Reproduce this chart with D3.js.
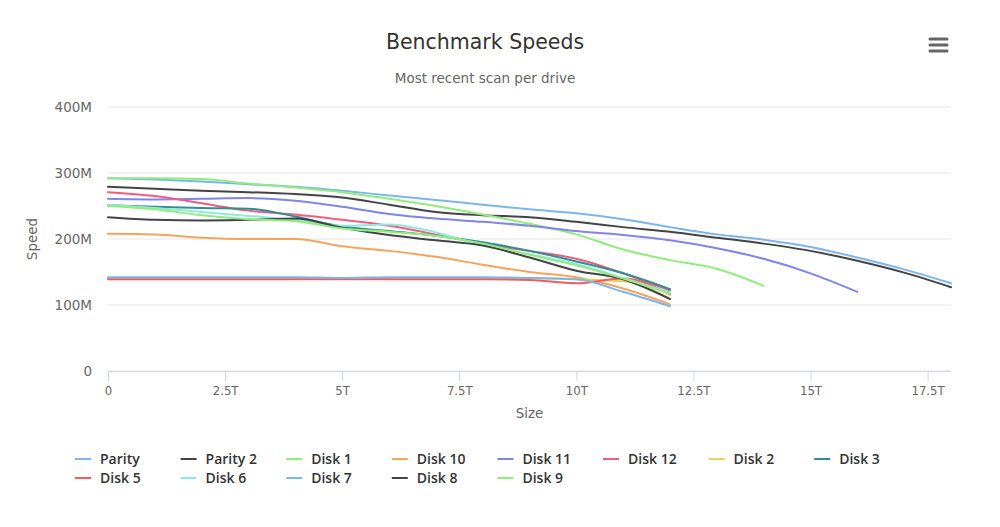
<!DOCTYPE html>
<html>
<head>
<meta charset="utf-8">
<script src="https://cdn.jsdelivr.net/npm/d3@7"></script>
<style>
  html, body { margin: 0; padding: 0; background: #fff; }
  svg text { font-family: "DejaVu Sans", Verdana, Arial, sans-serif; }
</style>
</head>
<body>
<div id="chart"></div>
<script>
// sizes in T, speeds in M
const sizesTo18 = [0, 1, 2, 3, 4, 5, 6, 7, 8, 9, 10, 11, 12, 13, 14, 15, 16, 17, 18];
const sizesTo16 = [0, 1, 2, 3, 4, 5, 6, 7, 8, 9, 10, 11, 12, 13, 14, 15, 16];
const sizesTo14 = [0, 1, 2, 3, 4, 5, 6, 7, 8, 9, 10, 11, 12, 13, 14];
const sizesTo12 = [0, 1, 2, 3, 4, 5, 6, 7, 8, 9, 10, 11, 12];

const parity  = [292, 290, 287, 283, 279, 273, 266, 259, 252, 245, 239, 230, 218, 207, 199, 188, 172, 154, 133];
const parity2 = [279, 276, 273, 271, 268, 263, 252, 241, 236, 233, 226, 218, 211, 202, 193, 182, 167, 149, 127];
const disk1   = [292, 292, 291, 284, 278, 271, 261, 250, 237, 223, 207, 184, 168, 155, 129];
const disk10  = [208, 207, 202, 200, 200, 189, 182, 173, 161, 150, 142, 125, 101];
const disk11  = [261, 260, 261, 262, 258, 249, 238, 231, 226, 220, 212, 206, 198, 186, 170, 148, 120];
const disk12  = [271, 265, 254, 243, 237, 229, 220, 207, 193, 182, 170, 148, 122];
const disk2   = [141, 141, 141, 141, 141, 141, 141, 141, 141, 141, 139, 136, 110];
const disk3   = [251, 249, 247, 246, 234, 219, 212, 205, 195, 182, 166, 148, 124];
const disk5   = [139, 139, 139, 139, 139, 139, 139, 139, 139, 138, 133, 140, 116];
const disk6   = [252, 247, 241, 235, 229, 220, 222, 210, 190, 177, 162, 141, 119];
const disk7   = [142, 142, 142, 142, 142, 141, 142, 142, 142, 141, 139, 120, 98];
const disk8   = [233, 229, 228, 229, 231, 217, 206, 198, 190, 172, 152, 139, 109];
const disk9   = [250, 245, 236, 230, 227, 216, 211, 205, 193, 176, 160, 140, 117];

const seriesNames = ["Parity", "Parity 2", "Disk 1", "Disk 10", "Disk 11", "Disk 12", "Disk 2", "Disk 3",
                     "Disk 5", "Disk 6", "Disk 7", "Disk 8", "Disk 9"];
const seriesSizes = [sizesTo18, sizesTo18, sizesTo14, sizesTo12, sizesTo16, sizesTo12, sizesTo12, sizesTo12,
                     sizesTo12, sizesTo12, sizesTo12, sizesTo12, sizesTo12];
const seriesSpeeds = [parity, parity2, disk1, disk10, disk11, disk12, disk2, disk3,
                      disk5, disk6, disk7, disk8, disk9];
const palette = ["#7cb5ec", "#434348", "#90ed7d", "#f7a35c", "#8085e9", "#f15c80", "#e4d354", "#2b908f",
                 "#f45b5b", "#91e8e1", "#7cb5ec", "#434348", "#90ed7d"];

const sizeTicks = [0, 2.5, 5, 7.5, 10, 12.5, 15, 17.5];
const speedTicks = [0, 100, 200, 300, 400];

const width = 1000, height = 527;
const margin = { top: 107, right: 49, bottom: 156, left: 108 };
const plotW = width - margin.left - margin.right;
const plotH = height - margin.top - margin.bottom;

const svg = d3.select("#chart").append("svg")
    .attr("width", width)
    .attr("height", height);

// title + subtitle
svg.append("text")
    .attr("x", 485).attr("y", 49)
    .attr("text-anchor", "middle")
    .attr("fill", "#333")
    .style("font-size", "20.5px")
    .text("Benchmark Speeds");

svg.append("text")
    .attr("x", 485).attr("y", 83)
    .attr("text-anchor", "middle")
    .attr("fill", "#666")
    .style("font-size", "13.5px")
    .text("Most recent scan per drive");

// menu button
const menu = svg.append("g").attr("stroke", "#666").attr("stroke-width", 3).attr("stroke-linecap", "round");
[39, 45, 51].forEach(y => {
    menu.append("line").attr("x1", 930).attr("x2", 947).attr("y1", y).attr("y2", y);
});

const plot = svg.append("g").attr("transform", `translate(${margin.left},${margin.top})`);

const x = d3.scaleLinear().domain([0, 18]).range([0, plotW]);
const y = d3.scaleLinear().domain([0, 400]).range([plotH, 0]);

// grid
plot.append("g")
    .selectAll("line")
    .data(speedTicks)
    .join("line")
    .attr("x1", 0).attr("x2", plotW)
    .attr("y1", d => y(d)).attr("y2", d => y(d))
    .attr("stroke", "#e6e6e6");

// y axis labels
const yAxis = plot.append("g")
    .call(d3.axisLeft(y).tickValues(speedTicks).tickSize(0).tickPadding(16)
        .tickFormat(d => d === 0 ? "0" : d + "M"));
yAxis.select(".domain").remove();
yAxis.selectAll("text").attr("fill", "#666").style("font-size", "13.5px")
    .style("font-family", "'DejaVu Sans', Verdana, sans-serif");

// x axis
const xAxis = plot.append("g")
    .attr("transform", `translate(0,${plotH})`)
    .call(d3.axisBottom(x).tickValues(sizeTicks).tickSize(10).tickPadding(5)
        .tickFormat(d => d === 0 ? "0" : d + "T"));
xAxis.select(".domain").attr("stroke", "#ccd6eb").attr("d", `M0.5,0.5H${plotW}`);
xAxis.selectAll(".tick line").attr("stroke", "#ccd6eb");
xAxis.selectAll("text").attr("fill", "#666").style("font-size", "13px")
    .style("font-family", "'DejaVu Sans Condensed', 'DejaVu Sans', sans-serif");

// axis titles
svg.append("text")
    .attr("transform", `translate(37,${margin.top + plotH / 2}) rotate(-90)`)
    .attr("text-anchor", "middle")
    .attr("fill", "#666")
    .style("font-size", "13.5px")
    .text("Speed");

svg.append("text")
    .attr("x", margin.left + plotW / 2).attr("y", 418)
    .attr("text-anchor", "middle")
    .attr("fill", "#666")
    .style("font-size", "13.5px")
    .text("Size");

// lines
const line = d3.line()
    .x(d => x(d[0]))
    .y(d => y(d[1]))
    .curve(d3.curveMonotoneX);

const series = seriesNames.map((name, i) => ({
    name,
    color: palette[i],
    points: seriesSizes[i].map((s, j) => [s, seriesSpeeds[i][j]])
}));

plot.append("g")
    .selectAll("path")
    .data(series)
    .join("path")
    .attr("d", d => line(d.points))
    .attr("fill", "none")
    .attr("stroke", d => d.color)
    .attr("stroke-width", 2)
    .attr("stroke-linejoin", "round")
    .attr("stroke-linecap", "round");

// legend
const legendCols = 8;
const legend = svg.append("g");
const item = legend.selectAll("g")
    .data(series)
    .join("g")
    .attr("transform", (d, i) => `translate(${75 + (i % legendCols) * 105.6},${459 + Math.floor(i / legendCols) * 19})`);

item.append("line")
    .attr("x1", 0).attr("x2", 16)
    .attr("stroke", d => d.color)
    .attr("stroke-width", 2);

item.append("text")
    .attr("x", 25)
    .attr("dy", "0.35em")
    .attr("fill", "#333")
    .style("font-size", "14px")
    .style("font-family", "'Open Sans', sans-serif")
    .style("font-weight", "600")
    .text(d => d.name);
</script>
</body>
</html>
